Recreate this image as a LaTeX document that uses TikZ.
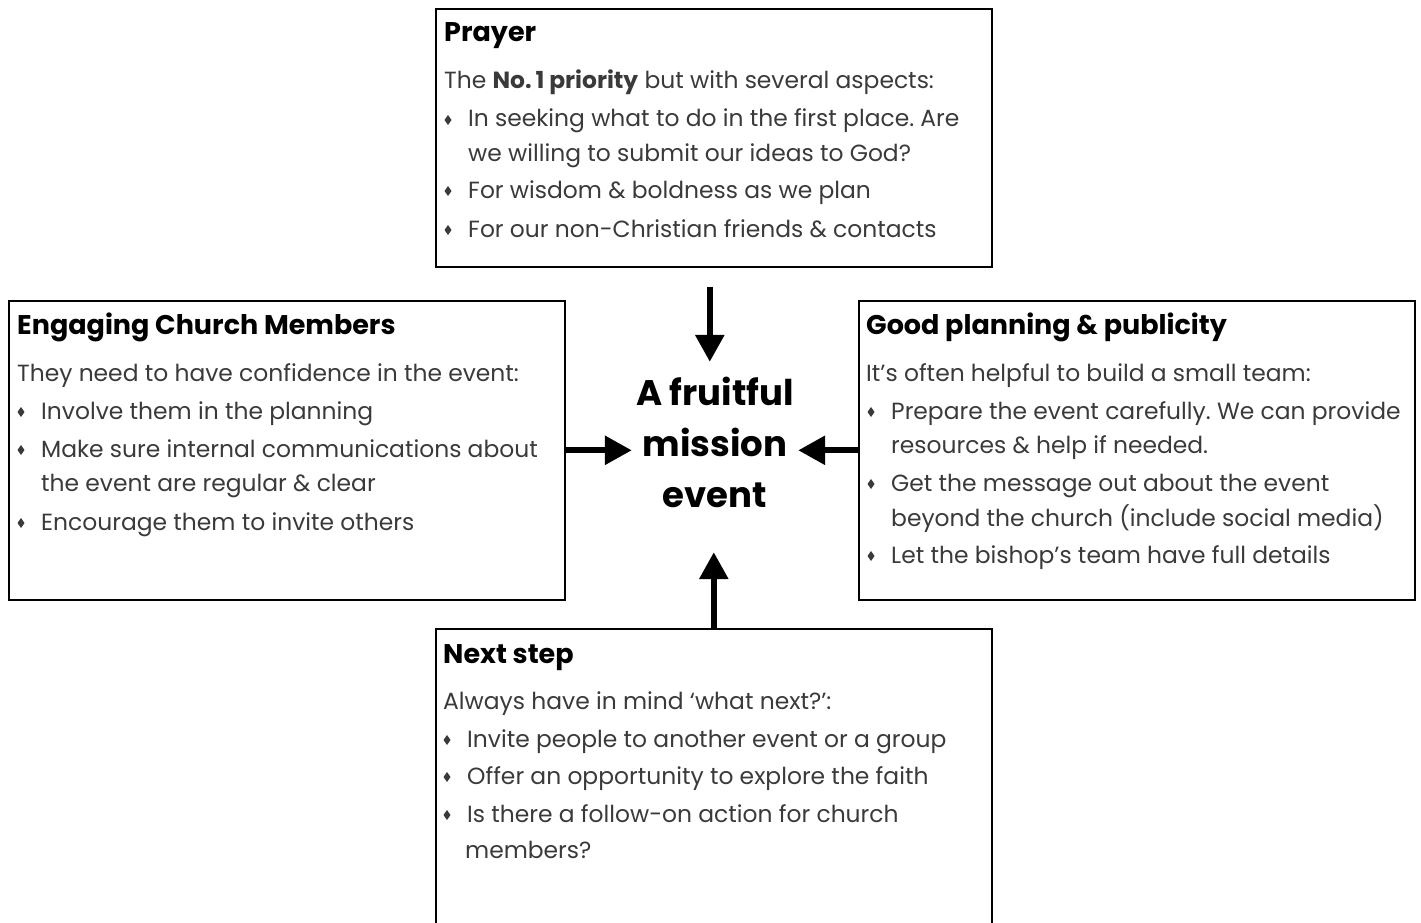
\documentclass[tikz,border=0pt]{standalone}
\usepackage{fontspec}
\setmainfont{Poppins}
\usepackage{tikz}
\usetikzlibrary{arrows.meta, positioning}
\frenchspacing
\definecolor{bodygray}{HTML}{3A3A3A}
\tikzset{panel/.style = {draw=black, line width=1.6pt, anchor=north west, inner sep=0pt}}
\tikzset{headtext/.style = {anchor=base west, inner sep=0pt, font=\fontsize{27}{30}\selectfont\bfseries}}
\tikzset{bodytext/.style = {anchor=base west, inner sep=0pt, text=bodygray, font=\fontsize{23.4}{26}\selectfont}}
\tikzset{bigarrow/.style = {line width=6pt, -{Triangle[length=27pt, width=28pt]}}}
\NewDocumentCommand{\bline}{m m m m}{%
	\node[bodytext] (#1) at (#2,#3) {#4};
}
\NewDocumentCommand{\bitem}{m m m m}{%
	\fill[bodygray] (#2+4,#3-12) -- (#2+7.5,#3-7) -- (#2+4,#3-2) -- (#2+0.5,#3-7) -- cycle;
	\node[bodytext] (#1) at (#2+24,#3) {#4};
}

\begin{document}
\begin{tikzpicture}[x=1pt, y=-1pt]
\useasboundingbox (0,0) rectangle (1421,923);
% the four panels
\node[panel, minimum width=556, minimum height=258] (prayer) at (435,8) {};
\node[panel, minimum width=556, minimum height=299] (engage) at (8,300) {};
\node[panel, minimum width=556, minimum height=299] (plan) at (858,300) {};
\node[panel, minimum width=556, minimum height=320] (nextstep) at (435,628) {};
% centre
\node[minimum width=166, minimum height=190, inner sep=0pt] (hub) at (715,457) {};
\node[align=center, inner sep=0pt, font=\fontsize{35.5}{51}\selectfont\bfseries] (hubtext)
	at ([yshift=15pt]hub.center) {A fruitful\\mission\\event};

% Prayer
\node[headtext] (prayerhead) at (444,42) {Prayer};
\bline{prayerintro}{444}{89}{The \textbf{No.\,1 priority} but with several aspects:}
\bitem{prayera}{444}{127}{In seeking what to do in the first place. Are}
\bline{prayerb}{468}{161}{we willing to submit our ideas to God?}
\bitem{prayerc}{444}{198}{For wisdom \& boldness as we plan}
\bitem{prayerd}{444}{237}{For our non-Christian friends \& contacts}

% Engaging Church Members
\node[headtext] (engagehead) at (17,334) {Engaging Church Members};
\bline{engageintro}{17}{381}{They need to have confidence in the event:}
\bitem{engagea}{17}{419}{Involve them in the planning}
\bitem{engageb}{17}{457}{Make sure internal communications about}
\bline{engagec}{41}{491}{the event are regular \& clear}
\bitem{engaged}{17}{530}{Encourage them to invite others}

% Good planning & publicity
\node[headtext] (planhead) at (866,334) {Good planning \& publicity};
\bline{planintro}{866}{381}{It’s often helpful to build a small team:}
\bitem{plana}{867}{419}{Prepare the event carefully. We can provide}
\bline{planb}{891}{453}{resources \& help if needed.}
\bitem{planc}{867}{491}{Get the message out about the event}
\bline{pland}{891}{526}{beyond the church (include social media)}
\bitem{plane}{867}{563}{Let the bishop’s team have full details}

% Next step
\node[headtext] (nexthead) at (443,663) {Next step};
\bline{nextintro}{443}{709}{Always have in mind ‘what next?’:}
\bitem{nexta}{443}{747}{Invite people to another event or a group}
\bitem{nextb}{443}{784}{Offer an opportunity to explore the faith}
\bitem{nextc}{443}{822}{Is there a follow-on action for church}
\bline{nextd}{465}{858}{members?}

% arrows into the centre
\coordinate (topstart) at ([xshift=-4pt, yshift=-19pt]prayer.south);
\draw[bigarrow] (topstart) -- (topstart |- hub.north);
\draw[bigarrow] (engage.east) -- (engage.east -| hub.west);
\draw[bigarrow] (plan.west) -- (plan.west -| hub.east);
\draw[bigarrow] (nextstep.north) -- (nextstep.north |- hub.south);
\end{tikzpicture}
\end{document}
